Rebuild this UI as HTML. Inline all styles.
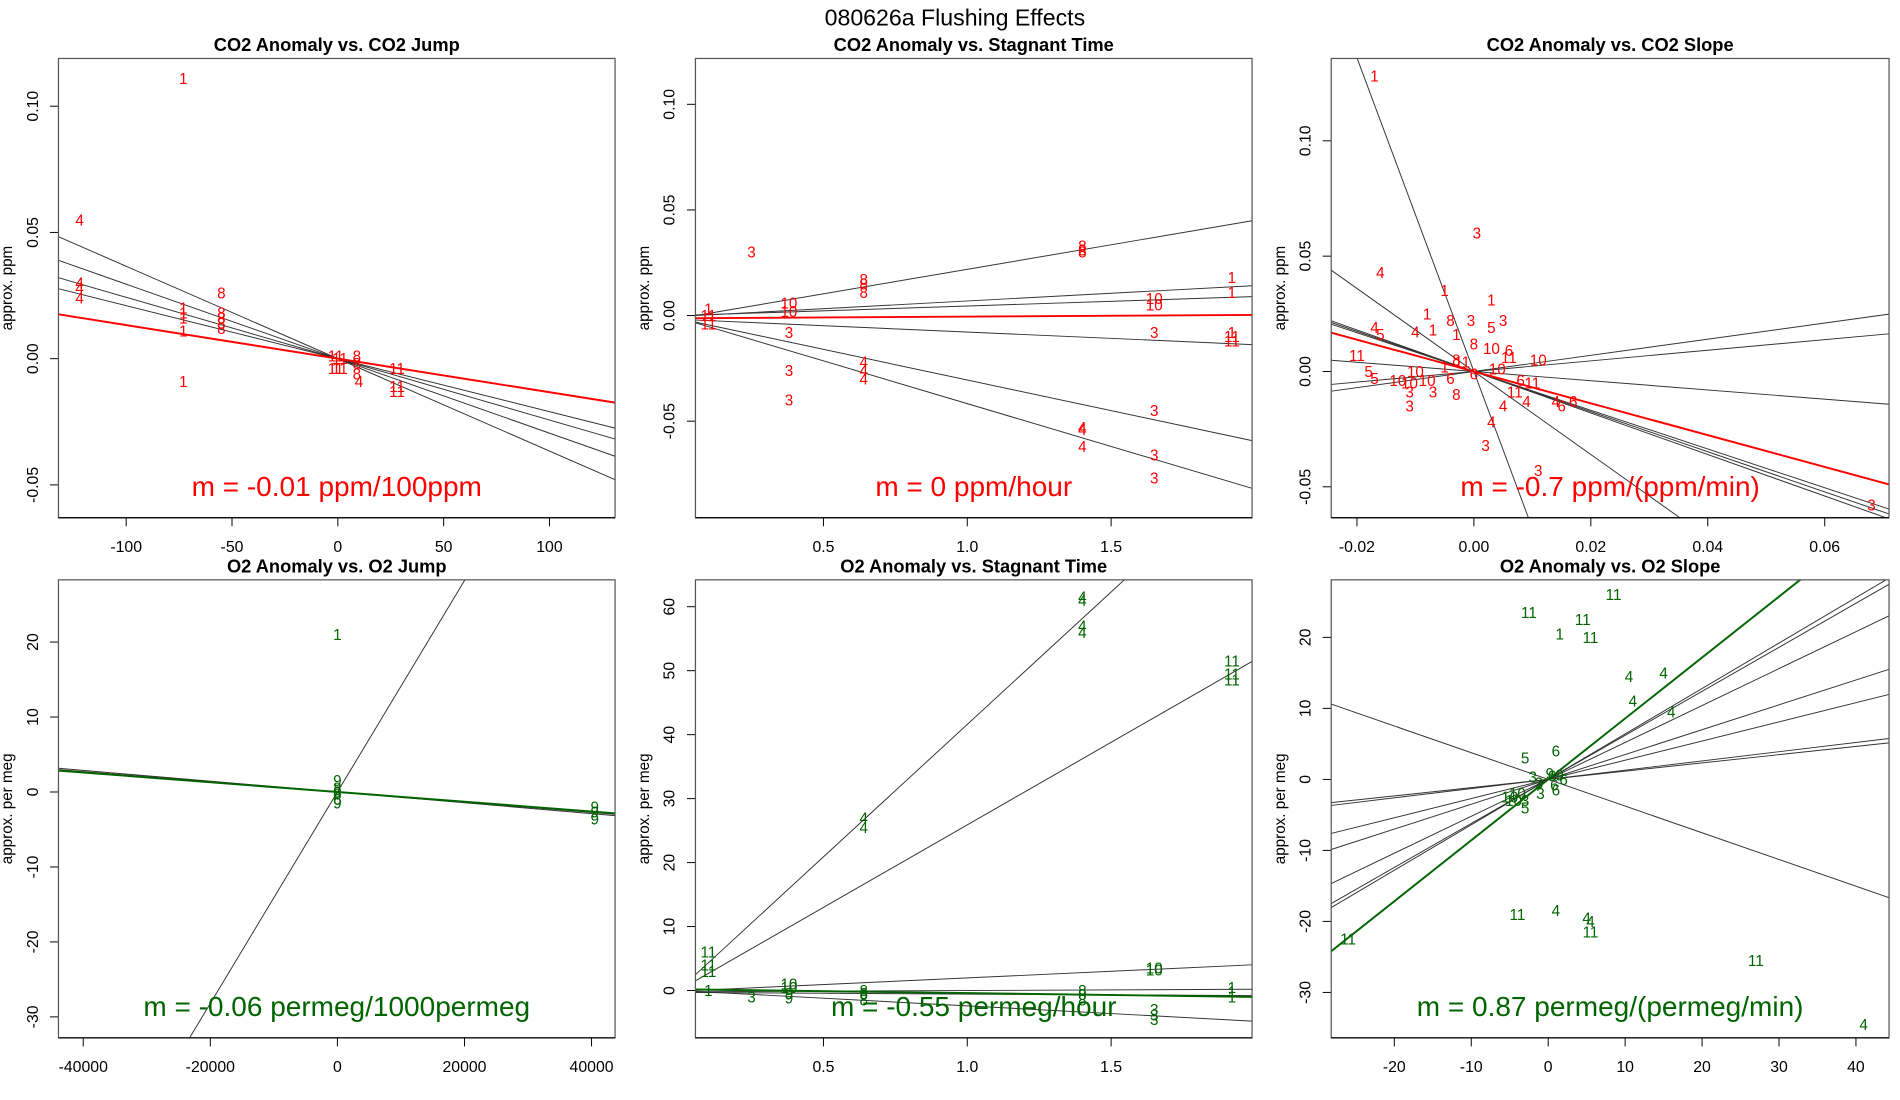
<!DOCTYPE html>
<html><head><meta charset="utf-8">
<style>
html,body{margin:0;padding:0;background:#fff;width:1900px;height:1100px;overflow:hidden;}
svg{display:block;font-family:"Liberation Sans",sans-serif;}
</style></head>
<body>
<svg id="fig" width="1900" height="1100" viewBox="0 0 1560 903" preserveAspectRatio="none" xmlns="http://www.w3.org/2000/svg">
<text x="784" y="21" font-size="19" text-anchor="middle">080626a    Flushing Effects</text>
</svg>
<script>
// ---- Panel 1: CO2 Anomaly vs CO2 Jump ----
const p1X=[-73,-122,-55,-122,-122,-122,-73,-73,-73,-73,-55,-55,-55,-55,-73,-1,1,-1,1,9,9,9,10,28,28,28];
const p1Y=[0.111,0.055,0.026,0.030,0.028,0.024,0.020,0.018,0.016,0.011,0.018,0.016,0.014,0.012,-0.009,0.001,0.0,-0.004,-0.004,0.001,-0.002,-0.006,-0.009,-0.004,-0.011,-0.013];
const p1L=["1","4","8","4","4","4","1","1","1","1","8","8","8","8","1","11","11","11","11","8","8","8","4","11","11","11"];
const p1Slope=[-0.000366,-0.000295,-0.000243,-0.000210,-0.000133];
const p1Int=[0,0,0,0,0];
const p1XTicks=[-100,-50,0,50,100];
const p1XTickLab=["-100","-50","0","50","100"];
const p1YTicks=[-0.05,0,0.05,0.10];
const p1YTickLab=["-0.05","0.00","0.05","0.10"];
// ---- Panel 2: CO2 Anomaly vs Stagnant Time ----
const p2X=[0.25,0.1,0.1,0.1,0.38,0.38,0.38,0.38,0.38,0.64,0.64,0.64,0.64,0.64,0.64,1.4,1.4,1.4,1.4,1.4,1.4,1.65,1.65,1.65,1.65,1.65,1.65,1.92,1.92,1.92,1.92,1.92];
const p2Y=[0.030,0.003,0.000,-0.004,0.006,0.002,-0.008,-0.026,-0.040,0.017,0.015,0.011,-0.022,-0.026,-0.030,0.033,0.031,0.030,-0.053,-0.054,-0.062,0.008,0.005,-0.008,-0.045,-0.066,-0.077,0.018,0.011,-0.008,-0.010,-0.012];
const p2L=["3","1","11","11","10","10","3","3","3","8","8","8","4","4","4","8","8","8","4","4","4","10","10","3","3","3","3","1","1","1","11","11"];
const p2Slope=[0.0232,0.0073,0.0045,-0.0060,-0.0290,-0.0405,0.0008];
const p2Int=[-0.0013,-0.0004,0.0000,-0.0018,-0.0015,-0.0012,-0.0013];
const p2XTicks=[0.5,1.0,1.5];
const p2XTickLab=["0.5","1.0","1.5"];
const p2YTicks=[-0.05,0,0.05,0.10];
const p2YTickLab=["-0.05","0.00","0.05","0.10"];
// ---- Panel 3: CO2 Anomaly vs CO2 Slope ----
const p3X=[-0.017,0.0005,-0.016,-0.005,0.003,-0.008,-0.004,-0.0005,0.005,0.003,-0.017,-0.016,-0.010,-0.007,-0.003,0.000,0.003,0.006,0.006,0.011,-0.020,-0.018,-0.017,-0.010,-0.011,-0.004,-0.011,-0.011,-0.007,-0.003,0.005,0.003,0.002,0.007,0.010,0.009,0.015,0.014,0.017,0.011,0.068,-0.003,-0.005,-0.002,0.000,-0.013,-0.008,0.004,0.008];
const p3Y=[0.128,0.060,0.043,0.035,0.031,0.025,0.022,0.022,0.022,0.019,0.019,0.016,0.017,0.018,0.016,0.012,0.010,0.009,0.006,0.005,0.007,0.000,-0.003,0.000,-0.005,-0.003,-0.009,-0.015,-0.009,-0.010,-0.015,-0.022,-0.032,-0.009,-0.005,-0.013,-0.015,-0.013,-0.013,-0.043,-0.058,0.005,0.002,0.004,-0.001,-0.004,-0.004,0.001,-0.004];
const p3L=["1","3","4","1","1","1","8","3","3","5","4","5","4","1","1","8","10","6","11","10","11","5","5","10","10","6","3","3","3","8","4","4","3","11","11","4","6","4","6","3","3","8","1","11","6","10","10","10","6"];
const p3Slope=[-6.8,-1.8,-0.90,-0.87,-0.84,0.35,0.23,-0.20,-0.69];
const p3Int=[0,0,0,0,0,0,0,0,0];
const p3XTicks=[-0.02,0,0.02,0.04,0.06];
const p3XTickLab=["-0.02","0.00","0.02","0.04","0.06"];
const p3YTicks=[-0.05,0,0.05,0.10];
const p3YTickLab=["-0.05","0.00","0.05","0.10"];
// ---- Panel 4: O2 Anomaly vs O2 Jump ----
const p4X=[0,0,0,0,0,0,0,40500,40500,40500];
const p4Y=[21,1.5,0.5,-0.3,-1.0,-1.5,0.0,-2.0,-2.7,-3.6];
const p4L=["1","9","8","6","6","9","3","9","9","9"];
const p4Slope=[0.00141,-0.000072,-0.000068,-0.000065];
const p4Int=[0,0,0,0];
const p4XTicks=[-40000,-20000,0,20000,40000];
const p4XTickLab=["-40000","-20000","0","20000","40000"];
const p4YTicks=[-30,-20,-10,0,10,20];
const p4YTickLab=["-30","-20","-10","0","10","20"];
// ---- Panel 5: O2 Anomaly vs Stagnant Time ----
const p5X=[1.4,1.4,1.4,1.4,1.92,1.92,1.92,0.64,0.64,0.1,0.1,0.1,1.65,1.65,1.92,1.92,1.92,1.65,1.65,1.65,0.25,0.38,0.38,0.38,0.38,0.64,0.64,0.64,1.4,1.4,1.4,0.1];
const p5Y=[61.5,61,57,56,51.5,49.5,48.5,27,25.5,6,4,3,3.5,3.2,0.5,-0.2,-1,-3,-3.8,-4.5,-1,1,0.5,-0.5,-1.2,0,-0.5,-1.5,0,-0.6,-1.5,0];
const p5L=["4","4","4","4","11","11","11","4","4","11","11","11","10","10","1","1","1","3","3","3","3","10","10","9","9","8","8","8","8","8","8","1"];
const p5Slope=[41.4,25.8,2.07,0.2,-2.4,-0.25,-0.6];
const p5Int=[0.2,0.1,-0.1,-0.2,0.0,-0.3,0.2];
const p5XTicks=[0.5,1.0,1.5];
const p5XTickLab=["0.5","1.0","1.5"];
const p5YTicks=[0,10,20,30,40,50,60];
const p5YTickLab=["0","10","20","30","40","50","60"];
// ---- Panel 6: O2 Anomaly vs O2 Slope ----
const p6X=[-2.5,1.5,4.5,5.5,8.5,10.5,15,11,16,-3,1,-26,-4,1,5,5.5,5.5,27,41,-3,-5,-4,-1,0.5,2,1,-2,-4.5,-3,0.2,1.5,-1.2,0.8];
const p6Y=[23.5,20.5,22.5,20,26,14.5,15,11,9.5,3,4,-22.5,-19,-18.5,-19.5,-20,-21.5,-25.5,-34.5,-3,-2.5,-2,-2,0.5,0,-1.5,0.3,-3,-4,0.8,0.6,-0.5,-0.8];
const p6L=["11","1","11","11","11","4","4","4","4","5","6","11","11","4","4","4","11","11","4","3","10","10","3","6","6","6","3","10","5","9","9","3","6"];
const p6Slope=[0.64,0.62,0.52,0.35,0.27,0.13,0.116,-0.376,0.858];
const p6Int=[0,0,0,0,0,0,0,0,0];
const p6XTicks=[-20,-10,0,10,20,30,40];
const p6XTickLab=["-20","-10","0","10","20","30","40"];
const p6YTicks=[-30,-20,-10,0,10,20];
const p6YTickLab=["-30","-20","-10","0","10","20"];

const NS="http://www.w3.org/2000/svg";
const svg=document.getElementById('fig');
function mk(tag,attrs,parent){const e=document.createElementNS(NS,tag);for(const k in attrs)e.setAttribute(k,attrs[k]);(parent||svg).appendChild(e);return e;}

const panels=[
 {id:'p1',L:48,R:505,T:48,B:425,xd:[-132,131],yd:[-0.0630,0.1189],X:p1X,Y:p1Y,Lab:p1L,S:p1Slope,I:p1Int,xt:p1XTicks,xl:p1XTickLab,yt:p1YTicks,yl:p1YTickLab,col:'#ff0000',title:'CO2 Anomaly vs. CO2 Jump',ylab:'approx. ppm',ann:'m = -0.01 ppm/100ppm'},
 {id:'p2',L:571,R:1028,T:48,B:425,xd:[0.055,1.99],yd:[-0.0957,0.1217],X:p2X,Y:p2Y,Lab:p2L,S:p2Slope,I:p2Int,xt:p2XTicks,xl:p2XTickLab,yt:p2YTicks,yl:p2YTickLab,col:'#ff0000',title:'CO2 Anomaly vs. Stagnant Time',ylab:'approx. ppm',ann:'m = 0 ppm/hour'},
 {id:'p3',L:1093,R:1551,T:48,B:425,xd:[-0.0244,0.071],yd:[-0.0634,0.1357],X:p3X,Y:p3Y,Lab:p3L,S:p3Slope,I:p3Int,xt:p3XTicks,xl:p3XTickLab,yt:p3YTicks,yl:p3YTickLab,col:'#ff0000',title:'CO2 Anomaly vs. CO2 Slope',ylab:'approx. ppm',ann:'m = -0.7 ppm/(ppm/min)'},
 {id:'p4',L:48,R:505,T:476,B:852,xd:[-43900,43700],yd:[-32.8,28.3],X:p4X,Y:p4Y,Lab:p4L,S:p4Slope,I:p4Int,xt:p4XTicks,xl:p4XTickLab,yt:p4YTicks,yl:p4YTickLab,col:'#006400',title:'O2 Anomaly vs. O2 Jump',ylab:'approx. per meg',ann:'m = -0.06 permeg/1000permeg'},
 {id:'p5',L:571,R:1028,T:476,B:852,xd:[0.055,1.99],yd:[-7.4,64.2],X:p5X,Y:p5Y,Lab:p5L,S:p5Slope,I:p5Int,xt:p5XTicks,xl:p5XTickLab,yt:p5YTicks,yl:p5YTickLab,col:'#006400',title:'O2 Anomaly vs. Stagnant Time',ylab:'approx. per meg',ann:'m = -0.55 permeg/hour'},
 {id:'p6',L:1093,R:1551,T:476,B:852,xd:[-28.2,44.3],yd:[-36.4,28.1],X:p6X,Y:p6Y,Lab:p6L,S:p6Slope,I:p6Int,xt:p6XTicks,xl:p6XTickLab,yt:p6YTicks,yl:p6YTickLab,col:'#006400',title:'O2 Anomaly vs. O2 Slope',ylab:'approx. per meg',ann:'m = 0.87 permeg/(permeg/min)'}
];

const defs=mk('defs',{});
panels.forEach(function(p){
 const sx=v=>p.L+(v-p.xd[0])/(p.xd[1]-p.xd[0])*(p.R-p.L);
 const sy=v=>p.B-(v-p.yd[0])/(p.yd[1]-p.yd[0])*(p.B-p.T);
 const g=mk('g',{});
 
 
 const cp=mk('clipPath',{id:'clip-'+p.id},defs);
 mk('rect',{x:p.L,y:p.T,width:p.R-p.L,height:p.B-p.T},cp);
 const t=mk('text',{x:(p.L+p.R)/2,y:p.T-6,'font-size':15,'font-weight':'bold','text-anchor':'middle'},g);
 t.textContent=p.title;
 
 
 const yl=mk('text',{transform:'translate('+(p.L-38)+','+((p.T+p.B)/2)+') rotate(-90)','font-size':12.5,'text-anchor':'middle'},g);
 yl.textContent=p.ylab;
 
 
 p.xt.forEach(function(v,i){
  const x=sx(v);
  const tk=mk('line',{x1:x,x2:x,y1:p.B,y2:p.B+7,stroke:'#000','stroke-width':0.8},g);
  
  
  const tl=mk('text',{x:x,y:p.B+28,'font-size':13,'text-anchor':'middle'},g);
  tl.textContent=p.xl[i];
  
  
 });
 p.yt.forEach(function(v,i){
  const y=sy(v);
  const tk=mk('line',{x1:p.L-7,x2:p.L,y1:y,y2:y,stroke:'#000','stroke-width':0.8},g);
  
  
  const tl=mk('text',{transform:'translate('+(p.L-17)+','+y+') rotate(-90)','font-size':13,'text-anchor':'middle'},g);
  tl.textContent=p.yl[i];
  
  
 });
 const lg=mk('g',{'clip-path':'url(#clip-'+p.id+')'},g);
 p.S.forEach(function(b,i){
  const last=(i===p.S.length-1);
  const x0=p.xd[0],x1=p.xd[1];
  const ln=mk('line',{x1:sx(x0),y1:sy(p.I[i]+b*x0),x2:sx(x1),y2:sy(p.I[i]+b*x1),stroke:last?p.col:'#333','stroke-width':last?1.6:0.8},lg);
  
  
 });
 p.X.forEach(function(v,i){
  const pt=mk('text',{x:sx(v),y:sy(p.Y[i])+4.5,'font-size':12.5,fill:p.col,'text-anchor':'middle'},lg);
  pt.textContent=p.Lab[i];
  
  
 });
 const an=mk('text',{x:(p.L+p.R)/2,y:p.B-18,'font-size':23,fill:p.col,'text-anchor':'middle'},g);
 an.textContent=p.ann;
 
 
 const bx=mk('rect',{x:p.L,y:p.T,width:p.R-p.L,height:p.B-p.T,fill:'none',stroke:'#555','stroke-width':1},g);
 
 
 mk('line',{x1:p.L,x2:p.R,y1:p.B,y2:p.B,stroke:'#000','stroke-width':1},g);
});
</script>
</body></html>
